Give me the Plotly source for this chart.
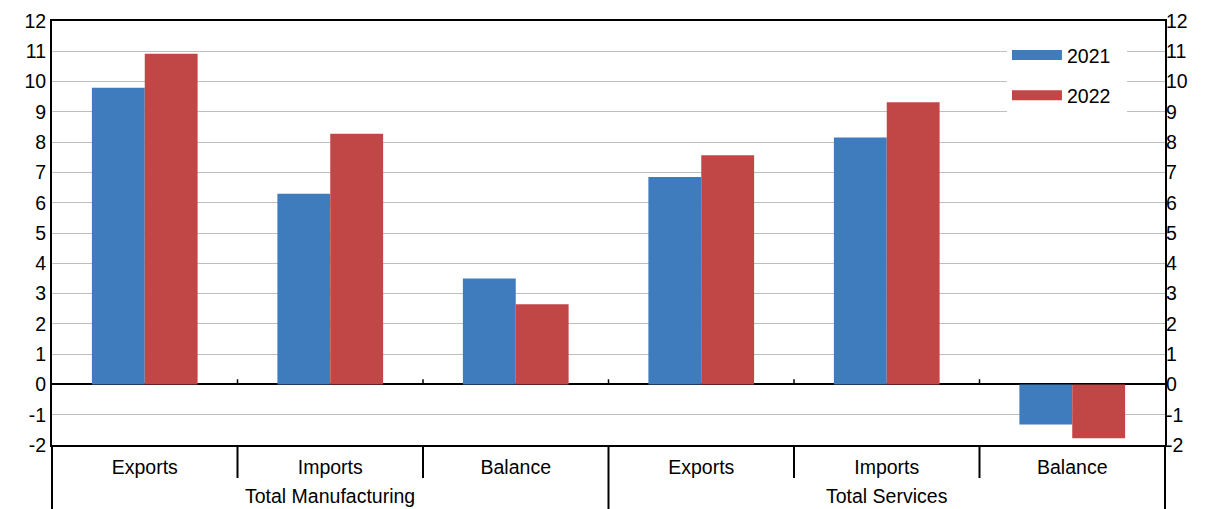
import plotly.graph_objects as go

groups = ["Total Manufacturing"] * 3 + ["Total Services"] * 3
items = ["Exports", "Imports", "Balance", "Exports", "Imports", "Balance"]
v2021 = [9.8, 6.3, 3.5, 6.85, 8.15, -1.32]
v2022 = [10.92, 8.28, 2.65, 7.57, 9.32, -1.78]
series_names = ["2021", "2022"]
colors = ["#3F7CBE", "#C14646"]
yticks = list(range(-2, 13))
yticktext = [str(v) for v in yticks]

W, H = 1207, 509
ml, mr, mt, mb = 52, 42, 21, 64
pw, ph = W - ml - mr, H - mt - mb

keys = [f"{g}|{it}" for g, it in zip(groups, items)]

fig = go.Figure()
for name, vals, col in zip(series_names, [v2021, v2022], colors):
    fig.add_trace(go.Bar(x=keys, y=vals, name=name, marker_color=col,
                         marker_line_width=0, showlegend=False))
    # legend swatch as a wide thick line
    fig.add_trace(go.Scatter(x=[None], y=[None], mode="lines", name=name + "  ",
                             line=dict(color=col, width=12), legendgroup=name,
                             showlegend=True))
# right axis duplicate
fig.add_trace(go.Scatter(x=keys[:1], y=[None], yaxis="y2",
                         showlegend=False, hoverinfo="skip"))

font = dict(family="Liberation Sans, Arial, sans-serif", size=19.5, color="black")

shapes = []
n = len(items)
# upward ticks on the zero line at category boundaries
for i in range(1, n):
    shapes.append(dict(type="line", xref="paper", yref="y", x0=i / n, x1=i / n,
                       y0=0, y1=0.17, line=dict(color="black", width=1.5)))
# inner separators in the label area
for i in [1, 2, 4, 5]:
    shapes.append(dict(type="line", xref="paper", yref="paper", x0=i / n, x1=i / n,
                       y0=0, y1=-33 / ph, line=dict(color="black", width=2)))
# outer separators continue to the bottom edge
for i in [0, 3, 6]:
    shapes.append(dict(type="line", xref="paper", yref="paper", x0=i / n, x1=i / n,
                       y0=0, y1=-(mb + 5) / ph, line=dict(color="black", width=2)))

# group labels centred under each group
annotations = []
for g in dict.fromkeys(groups):
    idx = [k for k, gg in enumerate(groups) if gg == g]
    mid = keys[idx[len(idx) // 2]]
    annotations.append(dict(text=g, x=mid, xref="x", y=-51 / ph, yref="paper",
                            xanchor="center", yanchor="middle", showarrow=False,
                            font=font))

fig.update_layout(
    template="none",
    width=W, height=H,
    margin=dict(l=ml, r=mr, t=mt, b=mb, pad=0),
    paper_bgcolor="white", plot_bgcolor="white",
    font=font,
    barmode="group", bargap=0.43, bargroupgap=0,
    shapes=shapes, annotations=annotations,
    legend=dict(x=0.858, y=0.965, xanchor="left", yanchor="top",
                bgcolor="white", font=font, itemwidth=50, borderwidth=0,
                tracegroupgap=12, traceorder="grouped"),
    xaxis=dict(type="category", tickvals=keys, ticktext=items, automargin=False,
               showline=True, mirror=True, linecolor="black", linewidth=2,
               ticks="", showgrid=False, zeroline=False, tickfont=font,
               ticklabelstandoff=4),
    yaxis=dict(range=[-2, 12], tickvals=yticks, ticktext=yticktext, showgrid=True,
               gridcolor="#BEBEBE", gridwidth=1, zeroline=True,
               zerolinecolor="black", zerolinewidth=1.5,
               showline=True, linecolor="black", linewidth=2, mirror=True,
               ticks="", tickfont=font, automargin=False),
    yaxis2=dict(range=[-2, 12], tickvals=yticks, ticktext=yticktext, overlaying="y",
                side="right", showgrid=False, zeroline=False, ticks="",
                tickfont=font, automargin=False, showline=False),
)
fig.write_html("out.html")
